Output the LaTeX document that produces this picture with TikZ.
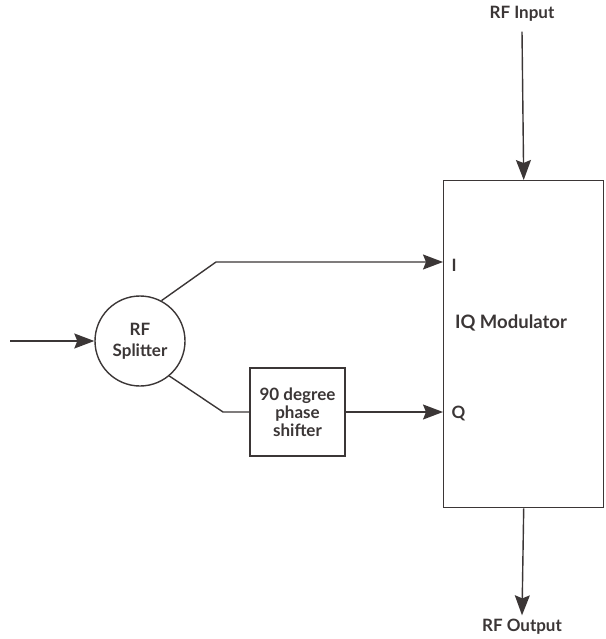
\documentclass[tikz,border=0pt]{standalone}
\usepackage{fontspec}
\setmainfont{Lato}
\usetikzlibrary{arrows.meta,positioning}
\definecolor{iq-line}{HTML}{3B3636}

\begin{document}
\begin{tikzpicture}[x=1pt, y=-1pt, line width=1.4pt, color=iq-line,
    >={Stealth[length=20pt,width=15pt,inset=3pt]},
    font=\fontsize{17}{21}\selectfont\bfseries]
    \useasboundingbox (0,0) rectangle (605,639);
    % modulator block and its ports
    \node[draw, minimum width=160pt, minimum height=327pt, anchor=north west] (iq) at (443,180) {};
    \node[anchor=west, font=\fontsize{18.5}{21}\selectfont\bfseries] (iqlab) at (451,323) {IQ Modulator};
    \node[anchor=west, inner sep=0pt] (Ilab) at (451,265) {I};
    \node[anchor=west, inner sep=0pt] (Qlab) at (451,413) {Q};
    % splitter and shifter
    \node[draw, circle, minimum size=90pt, inner sep=0pt, align=center] (split) at (140,341) {RF\\Splitter};
    \node[draw, minimum width=95pt, minimum height=88pt, inner sep=0pt, align=center,
          font=\fontsize{17}{18}\selectfont\bfseries] (shift) at (297.5,412) {90 degree\\phase\\shifter};
    \node (rfin) at (522,14) {RF Input};
    \node (rfout) at (522,627) {RF Output};
    \coordinate (src) at (10,341);
    \coordinate (kneeI) at (216,262);
    \coordinate (kneeQ) at (223,412);
    % connectors
    \draw[->] (src) -- (split);
    \draw[->] (split.62) -- (kneeI) -- (iq.west |- kneeI);
    \draw (split.-50) -- (kneeQ) -- (shift.west);
    \draw[->] (shift.east) -- (iq.west |- shift.east);
    \draw[->] (rfin.south) ++(0,6) coordinate (rfintop) (rfintop) -- (iq.north);
    \draw[->] (iq.south) -- (rfout.north);
\end{tikzpicture}
\end{document}
